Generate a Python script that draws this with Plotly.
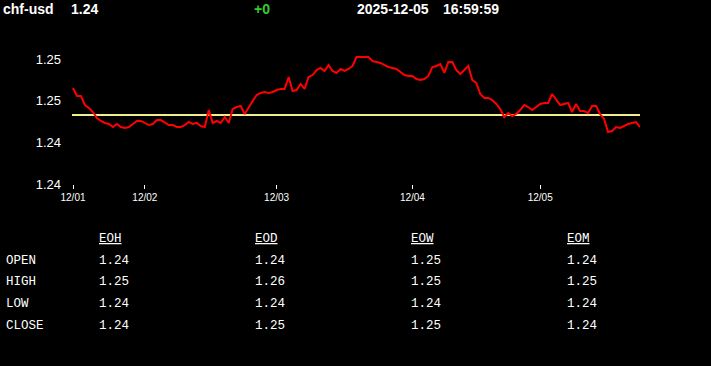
import plotly.graph_objects as go

# ---------------- data ----------------
symbol = "chf-usd"
last_price = "1.24"
change = "+0"
date_str = "2025-12-05"
time_str = "16:59:59"

prices = [
    1.24922, 1.24845, 1.24845, 1.24758, 1.24730, 1.24691, 1.24634, 1.24605, 1.24586, 1.24576,
    1.24547, 1.24576, 1.24547, 1.24538, 1.24547, 1.24576, 1.24605, 1.24605, 1.24586, 1.24566,
    1.24576, 1.24614, 1.24614, 1.24586, 1.24566, 1.24566, 1.24547, 1.24547, 1.24566, 1.24595,
    1.24576, 1.24586, 1.24557, 1.24547, 1.24710, 1.24586, 1.24605, 1.24586, 1.24643, 1.24586,
    1.24720, 1.24739, 1.24749, 1.24672, 1.24739, 1.24797, 1.24854, 1.24874, 1.24883, 1.24874,
    1.24883, 1.24902, 1.24912, 1.24912, 1.25027, 1.24893, 1.24902, 1.24960, 1.24912, 1.25027,
    1.25046, 1.25094, 1.25114, 1.25085, 1.25142, 1.25085, 1.25066, 1.25104, 1.25085, 1.25104,
    1.25133, 1.25219, 1.25219, 1.25219, 1.25219, 1.25181, 1.25171, 1.25162, 1.25142, 1.25123,
    1.25114, 1.25104, 1.25075, 1.25046, 1.25037, 1.25037, 1.25008, 1.24998, 1.25008, 1.25037,
    1.25123, 1.25133, 1.25152, 1.25066, 1.25171, 1.25171, 1.25094, 1.25056, 1.25094, 1.25133,
    1.24998, 1.24970, 1.24864, 1.24826, 1.24826, 1.24806, 1.24768, 1.24720, 1.24643, 1.24682,
    1.24653, 1.24672, 1.24710, 1.24758, 1.24739, 1.24710, 1.24739, 1.24768, 1.24778, 1.24778,
    1.24864, 1.24816, 1.24758, 1.24768, 1.24778, 1.24691, 1.24768, 1.24701, 1.24701, 1.24682,
    1.24749, 1.24749, 1.24672, 1.24624, 1.24499, 1.24509, 1.24547, 1.24538, 1.24557, 1.24576,
    1.24586, 1.24595, 1.24547,
]
reference_level = 1.24662

x_tick_index = [0, 18, 51, 85, 117]
x_tick_labels = ["12/01", "12/02", "12/03", "12/04", "12/05"]
y_tick_values = [1.240, 1.244, 1.248, 1.252]
y_range = [1.240, 1.25344]

table_columns = ["EOH", "EOD", "EOW", "EOM"]
table_rows = ["OPEN", "HIGH", "LOW", "CLOSE"]
eoh_values = [1.24, 1.25, 1.24, 1.24]
eod_values = [1.24, 1.26, 1.24, 1.25]
eow_values = [1.25, 1.25, 1.24, 1.25]
eom_values = [1.24, 1.25, 1.24, 1.24]

# ---------------- layout constants ----------------
W, H = 711, 366
PL, PR, PT, PB = 72, 640, 44, 184  # plot area in pixels


def px(xp):
    return (xp - PL) / (PR - PL)


def py(yp):
    return (PB - yp) / (PB - PT)


x_idx = list(range(len(prices)))

fig = go.Figure()
fig.add_trace(go.Scatter(
    x=[x_idx[0] - 0.25, x_idx[-1]], y=[reference_level, reference_level],
    mode="lines", line=dict(color="#eef08e", width=2), hoverinfo="skip",
    showlegend=False,
))
fig.add_trace(go.Scatter(
    x=x_idx, y=prices, mode="lines",
    line=dict(color="#ff0000", width=2), showlegend=False,
))

annotations = []
hdr_font = dict(family="Liberation Sans, Arial, sans-serif", size=14, color="white")


def add_text(text, xp, yp, font, anchor="left"):
    annotations.append(dict(
        text=text, x=px(xp), y=py(yp), xref="paper", yref="paper",
        xanchor=anchor, yanchor="middle", showarrow=False, font=font,
        borderpad=0, borderwidth=0,
    ))


add_text(f"<b>{symbol}</b>", 3, 9, hdr_font)
add_text(f"<b>{last_price}</b>", 71, 9, hdr_font)
add_text(f"<b>{change}</b>", 254, 9, dict(hdr_font, color="#33cc33"))
add_text(f"<b>{date_str}</b>", 357, 9, hdr_font)
add_text(f"<b>{time_str}</b>", 443, 9, hdr_font)

mono = dict(family="Liberation Mono, DejaVu Sans Mono, monospace", size=12.5, color="white")
col_x = [99, 255, 411, 567]
row_y = [260.5, 282, 303.5, 325.5]
col_values = [eoh_values, eod_values, eow_values, eom_values]
for name, cx in zip(table_columns, col_x):
    add_text(f"<u>{name}</u>", cx, 239, mono)
for label, ry in zip(table_rows, row_y):
    add_text(label, 6, ry, mono)
for vals, cx in zip(col_values, col_x):
    for v, ry in zip(vals, row_y):
        add_text(f"{v:.2f}", cx, ry, mono)

fig.update_layout(
    width=W, height=H,
    margin=dict(l=PL, r=W - PR, t=PT, b=H - PB, pad=0),
    paper_bgcolor="black", plot_bgcolor="black",
    annotations=annotations,
    xaxis=dict(
        range=[x_idx[0] - 0.25, x_idx[-1]], showgrid=False, zeroline=False,
        showline=False, tickmode="array", tickvals=x_tick_index,
        ticktext=x_tick_labels, ticks="outside", ticklen=4, tickcolor="white",
        tickwidth=1,
        tickfont=dict(family="Liberation Sans Narrow, Liberation Sans, Arial", size=10, color="white"),
    ),
    yaxis=dict(
        range=y_range, showgrid=False, zeroline=False, showline=False,
        tickmode="array", tickvals=y_tick_values, tickformat=".2f",
        ticks="", ticklabelstandoff=10,
        tickfont=dict(family="Liberation Sans, Arial", size=13, color="white"),
    ),
    hovermode=False,
)

fig.write_html("out.html", config={"displayModeBar": False})
